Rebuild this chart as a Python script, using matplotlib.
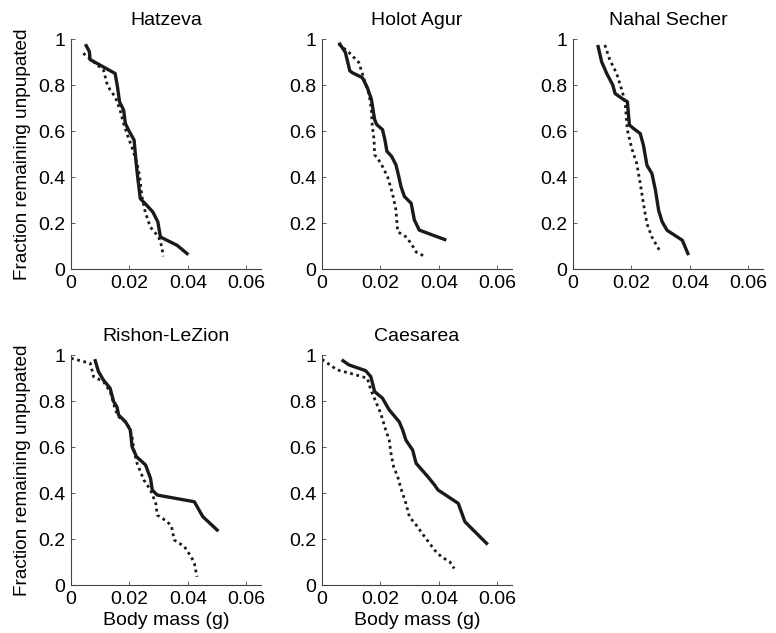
import matplotlib
matplotlib.use("Agg")
import matplotlib.pyplot as plt

plt.rcParams['font.family'] = ['Liberation Sans', 'DejaVu Sans']

sites = ["Hatzeva", "Holot Agur", "Nahal Secher", "Rishon-LeZion", "Caesarea"]

# solid curves (x = body mass g, y = fraction remaining unpupated)
solid_x = [
    [0.0052, 0.0063, 0.0065, 0.0151, 0.0159, 0.0166, 0.0180, 0.0186, 0.0197, 0.0216, 0.0223, 0.0228, 0.0237, 0.0254, 0.0280, 0.0297, 0.0306, 0.0363, 0.0397],
    [0.0061, 0.0080, 0.0095, 0.0103, 0.0138, 0.0155, 0.0169, 0.0180, 0.0187, 0.0207, 0.0215, 0.0222, 0.0238, 0.0253, 0.0264, 0.0270, 0.0282, 0.0305, 0.0316, 0.0333, 0.0420],
    [0.0086, 0.0098, 0.0115, 0.0136, 0.0144, 0.0167, 0.0186, 0.0193, 0.0207, 0.0230, 0.0241, 0.0253, 0.0270, 0.0282, 0.0293, 0.0305, 0.0322, 0.0374, 0.0393],
    [0.0083, 0.0094, 0.0111, 0.0134, 0.0146, 0.0157, 0.0163, 0.0186, 0.0203, 0.0209, 0.0224, 0.0255, 0.0272, 0.0278, 0.0295, 0.0422, 0.0451, 0.0500],
    [0.0072, 0.0092, 0.0149, 0.0167, 0.0180, 0.0207, 0.0230, 0.0264, 0.0276, 0.0287, 0.0310, 0.0322, 0.0362, 0.0385, 0.0397, 0.0466, 0.0489, 0.0563],
]
solid_y = [
    [0.971, 0.945, 0.911, 0.850, 0.792, 0.727, 0.691, 0.633, 0.604, 0.560, 0.459, 0.401, 0.306, 0.284, 0.248, 0.205, 0.139, 0.103, 0.067],
    [0.978, 0.942, 0.862, 0.854, 0.832, 0.789, 0.738, 0.650, 0.628, 0.606, 0.563, 0.512, 0.490, 0.453, 0.395, 0.359, 0.315, 0.286, 0.213, 0.169, 0.128],
    [0.967, 0.901, 0.851, 0.800, 0.763, 0.742, 0.727, 0.626, 0.611, 0.589, 0.538, 0.451, 0.415, 0.343, 0.255, 0.205, 0.168, 0.125, 0.067],
    [0.975, 0.928, 0.891, 0.855, 0.797, 0.775, 0.739, 0.710, 0.674, 0.601, 0.558, 0.522, 0.464, 0.413, 0.391, 0.362, 0.297, 0.239],
    [0.975, 0.957, 0.932, 0.906, 0.841, 0.812, 0.761, 0.710, 0.674, 0.630, 0.587, 0.529, 0.471, 0.435, 0.413, 0.355, 0.275, 0.181],
]

# dotted curves
dot_x = [
    [0.0042, 0.0111, 0.0123, 0.0134, 0.0151, 0.0168, 0.0180, 0.0191, 0.0208, 0.0226, 0.0235, 0.0243, 0.0254, 0.0271, 0.0300, 0.0311, 0.0315],
    [0.0057, 0.0092, 0.0126, 0.0144, 0.0161, 0.0169, 0.0172, 0.0178, 0.0180, 0.0201, 0.0224, 0.0241, 0.0253, 0.0259, 0.0287, 0.0305, 0.0322, 0.0356],
    [0.0109, 0.0126, 0.0149, 0.0167, 0.0178, 0.0186, 0.0201, 0.0218, 0.0230, 0.0241, 0.0253, 0.0270, 0.0299],
    [0.0000, 0.0066, 0.0077, 0.0111, 0.0134, 0.0152, 0.0163, 0.0192, 0.0209, 0.0215, 0.0226, 0.0249, 0.0272, 0.0290, 0.0295, 0.0330, 0.0344, 0.0353, 0.0388, 0.0411, 0.0422, 0.0431],
    [0.0000, 0.0052, 0.0098, 0.0155, 0.0167, 0.0184, 0.0201, 0.0218, 0.0230, 0.0236, 0.0245, 0.0259, 0.0270, 0.0287, 0.0299, 0.0322, 0.0351, 0.0385, 0.0408, 0.0437, 0.0452],
]
dot_y = [
    [0.938, 0.865, 0.807, 0.778, 0.749, 0.691, 0.633, 0.589, 0.531, 0.459, 0.401, 0.313, 0.248, 0.183, 0.139, 0.096, 0.055],
    [0.978, 0.942, 0.898, 0.825, 0.759, 0.694, 0.621, 0.563, 0.497, 0.461, 0.402, 0.329, 0.257, 0.162, 0.140, 0.111, 0.074, 0.052],
    [0.974, 0.909, 0.851, 0.778, 0.727, 0.604, 0.524, 0.459, 0.372, 0.284, 0.197, 0.139, 0.074],
    [0.986, 0.964, 0.906, 0.884, 0.841, 0.761, 0.732, 0.703, 0.645, 0.587, 0.529, 0.457, 0.413, 0.355, 0.304, 0.275, 0.254, 0.196, 0.167, 0.123, 0.094, 0.036],
    [0.981, 0.935, 0.920, 0.899, 0.849, 0.797, 0.746, 0.674, 0.630, 0.572, 0.514, 0.471, 0.420, 0.355, 0.297, 0.261, 0.210, 0.152, 0.123, 0.101, 0.072],
]

xticks = [0, 0.02, 0.04, 0.06]
xticklabels = ["0", "0.02", "0.04", "0.06"]
yticks = [0, 0.2, 0.4, 0.6, 0.8, 1]
yticklabels = ["0", "0.2", "0.4", "0.6", "0.8", "1"]

W, H = 776, 633
fig = plt.figure(figsize=(W / 100, H / 100), dpi=100)

lefts = [71, 322, 573]
tops = [39, 355]
aw, ah = 190, 230

positions = [(0, 0), (0, 1), (0, 2), (1, 0), (1, 1)]
for i, (r, c) in enumerate(positions):
    l = lefts[c]
    t = tops[r]
    ax = fig.add_axes([l / W, (H - t - ah) / H, aw / W, ah / H])
    ax.plot(solid_x[i], solid_y[i], color='#1a1a1a', lw=2.4, solid_joinstyle='round')
    ax.plot(dot_x[i], dot_y[i], color='#1a1a1a', lw=2.0, linestyle=(0, (1, 1.3)))
    ax.set_xlim(0, 0.065)
    ax.set_ylim(0, 1)
    ax.set_xticks(xticks)
    ax.set_xticklabels(xticklabels)
    ax.set_yticks(yticks)
    ax.set_yticklabels(yticklabels)
    for s in ['top', 'right']:
        ax.spines[s].set_visible(False)
    for s in ['left', 'bottom']:
        ax.spines[s].set_linewidth(0.8)
        ax.spines[s].set_color('#444444')
    ax.tick_params(direction='in', length=3, width=0.6, color='#444444',
                   labelsize=14, pad=4)
    ax.set_title(sites[i], fontsize=14, pad=10)
    if c == 0:
        ax.set_ylabel("Fraction remaining unpupated", fontsize=13.7, labelpad=5)
    if r == 1:
        ax.set_xlabel("Body mass (g)", fontsize=14, labelpad=3)

fig.savefig("out.png", dpi=100)
